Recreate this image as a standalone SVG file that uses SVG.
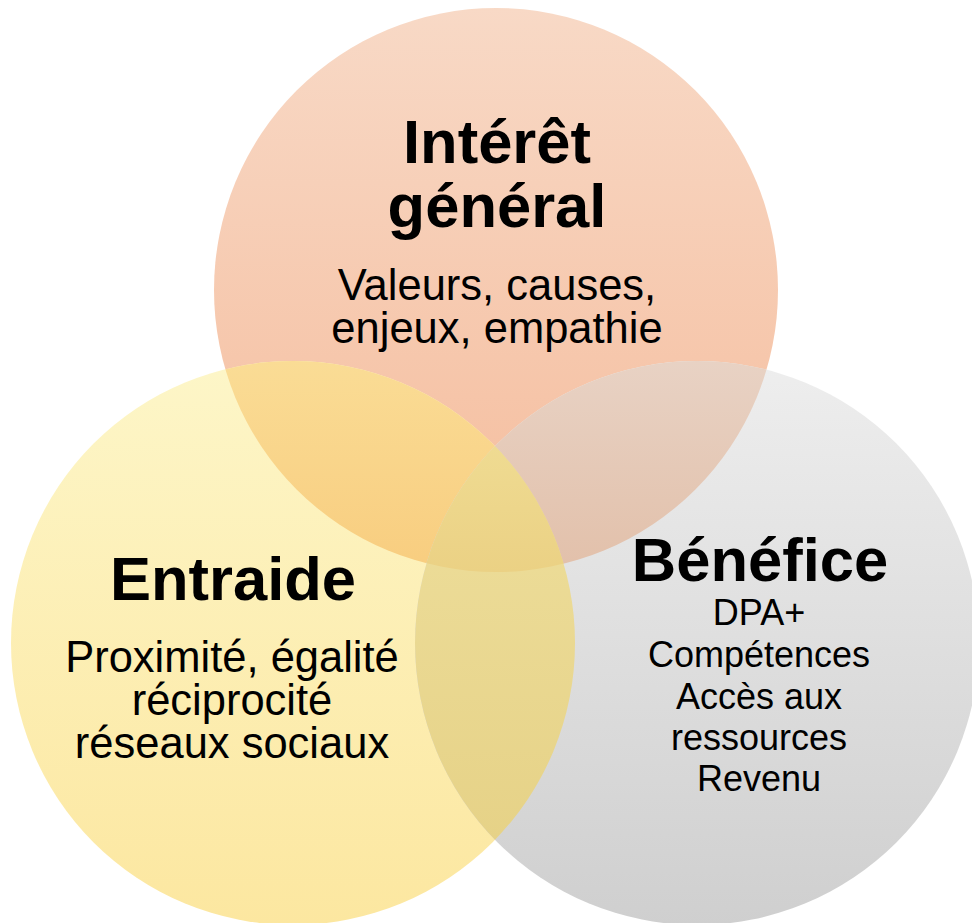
<svg xmlns="http://www.w3.org/2000/svg" width="972" height="923" viewBox="0 0 972 923">
<style>
.title{font-family:"Liberation Sans",Arial,sans-serif;font-weight:bold;font-size:61.5px;fill:#000;text-anchor:middle}
.body{font-family:"Liberation Sans",Arial,sans-serif;font-size:43.5px;fill:#000;text-anchor:middle}
.small{font-family:"Liberation Sans",Arial,sans-serif;font-size:36px;fill:#000;text-anchor:middle}
</style>
<defs>
<linearGradient id="gO" gradientUnits="userSpaceOnUse" x1="0" y1="8" x2="0" y2="572"><stop offset="0" stop-color="#f8d9c6"/><stop offset="1" stop-color="#f5bc9c"/></linearGradient>
<linearGradient id="gY" gradientUnits="userSpaceOnUse" x1="0" y1="361" x2="0" y2="925"><stop offset="0" stop-color="#fdf6c8"/><stop offset="1" stop-color="#fce7a0"/></linearGradient>
<linearGradient id="gG" gradientUnits="userSpaceOnUse" x1="0" y1="361" x2="0" y2="925"><stop offset="0" stop-color="#eeeeee"/><stop offset="1" stop-color="#cfcfcf"/></linearGradient>
<linearGradient id="gOY" gradientUnits="userSpaceOnUse" x1="0" y1="362" x2="0" y2="572"><stop offset="0" stop-color="#fadc95"/><stop offset="1" stop-color="#f8cd7f"/></linearGradient>
<linearGradient id="gOG" gradientUnits="userSpaceOnUse" x1="0" y1="362" x2="0" y2="572"><stop offset="0" stop-color="#e8d2c4"/><stop offset="1" stop-color="#e2c0aa"/></linearGradient>
<linearGradient id="gYG" gradientUnits="userSpaceOnUse" x1="0" y1="446" x2="0" y2="840"><stop offset="0" stop-color="#eedf9d"/><stop offset="1" stop-color="#e6d287"/></linearGradient>
<linearGradient id="gC" gradientUnits="userSpaceOnUse" x1="0" y1="446" x2="0" y2="572"><stop offset="0" stop-color="#efdb92"/><stop offset="1" stop-color="#ebd184"/></linearGradient>
<clipPath id="cO"><circle cx="496" cy="290" r="282"/></clipPath>
<clipPath id="cY"><circle cx="293" cy="643" r="282"/></clipPath>
</defs>

<g id="node-interet">
<circle cx="496" cy="290" r="282" fill="url(#gO)"/>
<text class="title" x="497" y="163">Intérêt</text>
<text class="title" x="497" y="227">général</text>
<text class="body" x="497" y="300">Valeurs, causes,</text>
<text class="body" x="497" y="343">enjeux, empathie</text>
</g>

<g id="node-entraide">
<circle cx="293" cy="643" r="282" fill="url(#gY)"/>
<circle cx="293" cy="643" r="282" fill="url(#gOY)" clip-path="url(#cO)"/>
<text class="title" x="233" y="600">Entraide</text>
<text class="body" x="232" y="672">Proximité, égalité</text>
<text class="body" x="232" y="715">réciprocité</text>
<text class="body" x="232" y="758">réseaux sociaux</text>
</g>

<g id="node-benefice">
<circle cx="697" cy="643" r="282" fill="url(#gG)"/>
<circle cx="697" cy="643" r="282" fill="url(#gOG)" clip-path="url(#cO)"/>
<circle cx="697" cy="643" r="282" fill="url(#gYG)" clip-path="url(#cY)"/>
<g clip-path="url(#cO)"><circle cx="697" cy="643" r="282" fill="url(#gC)" clip-path="url(#cY)"/></g>
<text class="title" x="760" y="581">Bénéfice</text>
<text class="small" x="759" y="625">DPA+</text>
<text class="small" x="759" y="667">Compétences</text>
<text class="small" x="759" y="709">Accès aux</text>
<text class="small" x="759" y="750">ressources</text>
<text class="small" x="759" y="791">Revenu</text>
</g>

<g id="connectors"/>
</svg>
